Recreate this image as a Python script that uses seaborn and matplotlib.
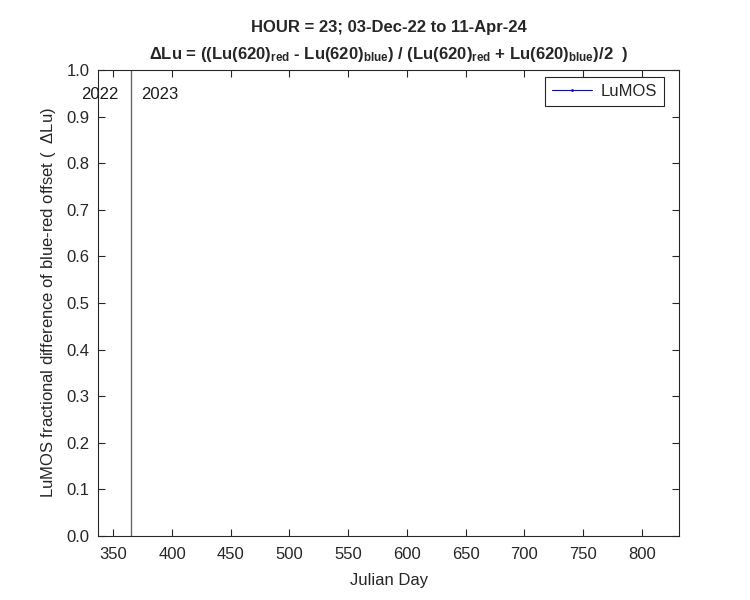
import matplotlib
matplotlib.use("Agg")
import matplotlib.pyplot as plt
import seaborn as sns
import numpy as np

# Data
days = []          # Julian day (no valid LuMOS points in this window)
delta_lu = []      # fractional difference
year_boundaries = [365]
year_labels = ["2022", "2023"]
year_label_x = [338.5, 374]
xlim = (337, 832)
xticks = [350, 400, 450, 500, 550, 600, 650, 700, 750, 800]
yticks = [0.0, 0.1, 0.2, 0.3, 0.4, 0.5, 0.6, 0.7, 0.8, 0.9, 1.0]

sns.set_style("ticks")
plt.rcParams['font.family'] = ['Liberation Sans', 'DejaVu Sans']
plt.rcParams['mathtext.fontset'] = 'custom'
plt.rcParams['mathtext.rm'] = 'Liberation Sans'
plt.rcParams['mathtext.bf'] = 'Liberation Sans:bold'
plt.rcParams['mathtext.it'] = 'Liberation Sans:italic'

FS = 12
fig = plt.figure(figsize=(7.5, 6), dpi=100)
ax = fig.add_axes([0.1307, 0.1067, 0.775, 0.7766])

sns.lineplot(x=np.array(days, dtype=float), y=np.array(delta_lu, dtype=float), ax=ax)
ax.plot(days, delta_lu, color='blue', marker='.', markersize=2, linewidth=0.8, label='LuMOS')

for xb in year_boundaries:
    ax.axvline(xb, color='#666666', linewidth=1.0)
ax.text(year_label_x[0], 0.948, year_labels[0], fontsize=FS, color='#1a1a1a', ha='center', va='center')
ax.text(year_label_x[1], 0.948, year_labels[1], fontsize=FS, color='#1a1a1a', ha='left', va='center')

ax.set_xlim(*xlim)
ax.set_ylim(0, 1)
ax.set_xticks(xticks)
ax.set_yticks(yticks)
ax.set_yticklabels([f"{v:.1f}" for v in yticks])
ax.tick_params(direction='in', top=True, right=True, labelsize=FS, colors='#262626',
               length=5, width=0.8)
ax.tick_params(axis='x', pad=8)
ax.tick_params(axis='y', pad=6)
for s in ax.spines.values():
    s.set_visible(True)
    s.set_color('#262626')
    s.set_linewidth(0.8)

ax.set_xlabel('Julian Day', fontsize=FS, color='#262626', labelpad=8)
ax.set_ylabel(r'LuMOS fractional difference of blue-red offset (  $\Delta$Lu)', fontsize=FS,
              color='#262626', labelpad=6)

title = ('HOUR = 23; 03-Dec-22 to 11-Apr-24\n'
         r'$\mathbf{\Delta}$Lu = ((Lu(620)$_{\mathbf{red}}$ - Lu(620)$_{\mathbf{blue}}$) / '
         r'(Lu(620)$_{\mathbf{red}}$ + Lu(620)$_{\mathbf{blue}}$)/2  )')
ax.set_title(title, fontsize=FS, fontweight='bold', pad=8, linespacing=1.7)

leg = ax.legend(loc='upper right', fontsize=FS, frameon=True, fancybox=False,
                edgecolor='#262626', framealpha=1, handlelength=2.4, borderpad=0.42,
                handletextpad=0.5, borderaxespad=0, bbox_to_anchor=(0.9737, 0.985))
leg.get_frame().set_linewidth(0.8)

fig.savefig('out.png', dpi=100)
